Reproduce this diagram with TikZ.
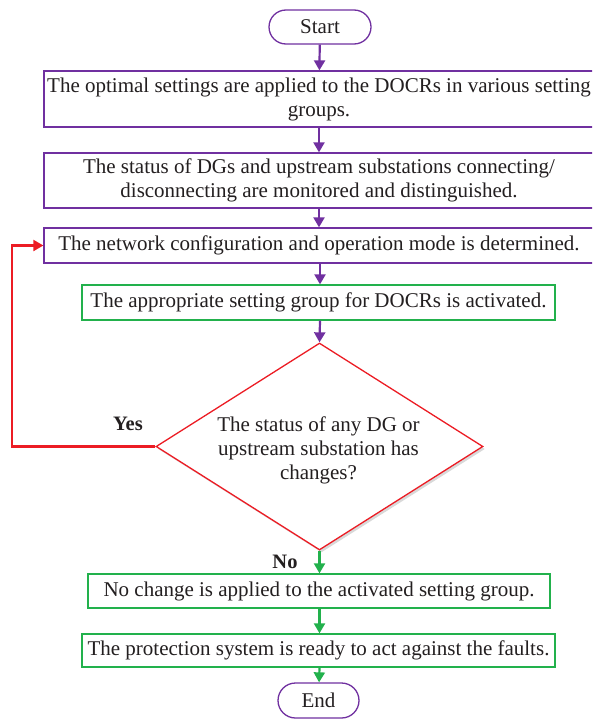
\documentclass[tikz,border=0pt]{standalone}
\usepackage{fontspec}
\setmainfont{Liberation Serif}
\usetikzlibrary{arrows.meta,shapes.geometric,shapes.misc,shadows}

\definecolor{flowpurple}{RGB}{112,48,160}
\definecolor{flowgreen}{RGB}{34,177,76}
\definecolor{flowred}{RGB}{236,28,36}
\definecolor{ink}{RGB}{35,31,32}

\begin{document}
\begin{tikzpicture}[x=1pt,y=-1pt,
  font=\fontsize{21}{24}\selectfont, text=ink,
  procbox/.style={draw=#1, line width=1.3pt, rectangle, inner sep=0pt,
    align=center, fill=white},
  terminal/.style={draw=flowpurple, line width=1.3pt, rounded rectangle,
    inner sep=0pt, fill=white},
  flow/.style={draw=#1, line width=2.2pt,
    -{Triangle[length=10pt,width=11pt,fill=#1]}},
  answer/.style={font=\fontsize{20.5}{24}\selectfont\bfseries}
]
\useasboundingbox (0,0) rectangle (592,720);
\clip (0,0) rectangle (592,720);

% terminals
\node[terminal, minimum width=102pt, minimum height=34pt] (start) at (320,27) {Start};
\node[terminal, minimum width=81pt, minimum height=35pt] (stop) at (318.5,700.5) {End};

% purple process steps
\node[procbox=flowpurple, minimum width=550pt, minimum height=56pt] (b1) at (319,99)
  {The optimal settings are applied to the DOCRs in various setting\\groups.};
\node[procbox=flowpurple, minimum width=550pt, minimum height=55pt] (b2) at (319,180.5)
  {The status of DGs and upstream substations connecting/\\disconnecting are monitored and distinguished.};
\node[procbox=flowpurple, minimum width=550pt, minimum height=35pt] (b3) at (319,245.5)
  {The network configuration and operation mode is determined.};

% green process steps
\node[procbox=flowgreen, minimum width=473pt, minimum height=35pt] (b4) at (318.5,302.5)
  {The appropriate setting group for DOCRs is activated.};
\node[procbox=flowgreen, minimum width=462pt, minimum height=34pt] (b5) at (319,591)
  {No change is applied to the activated setting group.};
\node[procbox=flowgreen, minimum width=473pt, minimum height=33pt] (b6) at (318.5,650.5)
  {The protection system is ready to act against the faults.};

% decision
\node[draw=flowred, line width=1.3pt, diamond, inner sep=0pt, fill=white,
  minimum width=327pt, minimum height=207pt,
  drop shadow={shadow xshift=2pt, shadow yshift=-2.5pt, opacity=0.3}] (dia) at (319.5,446.5) {};
\node[align=center] (diatext) at (318.5,450)
  {The status of any DG or\\upstream substation has\\changes?};

% branch labels
\node[answer] (yes) at (128,424) {Yes};
\node[answer] (no) at (285,562) {No};

% connectors
\draw[flow=flowpurple] (start) -- (b1);
\draw[flow=flowpurple] (b1) -- (b2);
\draw[flow=flowpurple] (b2) -- (b3);
\draw[flow=flowpurple] (b3.south -| start) -- (b4.north -| start);
\draw[flow=flowpurple] (b4.south -| start) -- (dia.north);
\draw[flow=flowgreen] (dia.south) -- (b5.north -| dia);
\draw[flow=flowgreen] (b5.south -| dia) -- (b6.north -| dia);
\draw[flow=flowgreen] (b6.south -| dia) -- (stop);

\coordinate (loopx) at (12,0);
\draw[flow=flowred] (dia.west) -- (dia.west -| loopx) |- (b3.west);
\end{tikzpicture}
\end{document}
